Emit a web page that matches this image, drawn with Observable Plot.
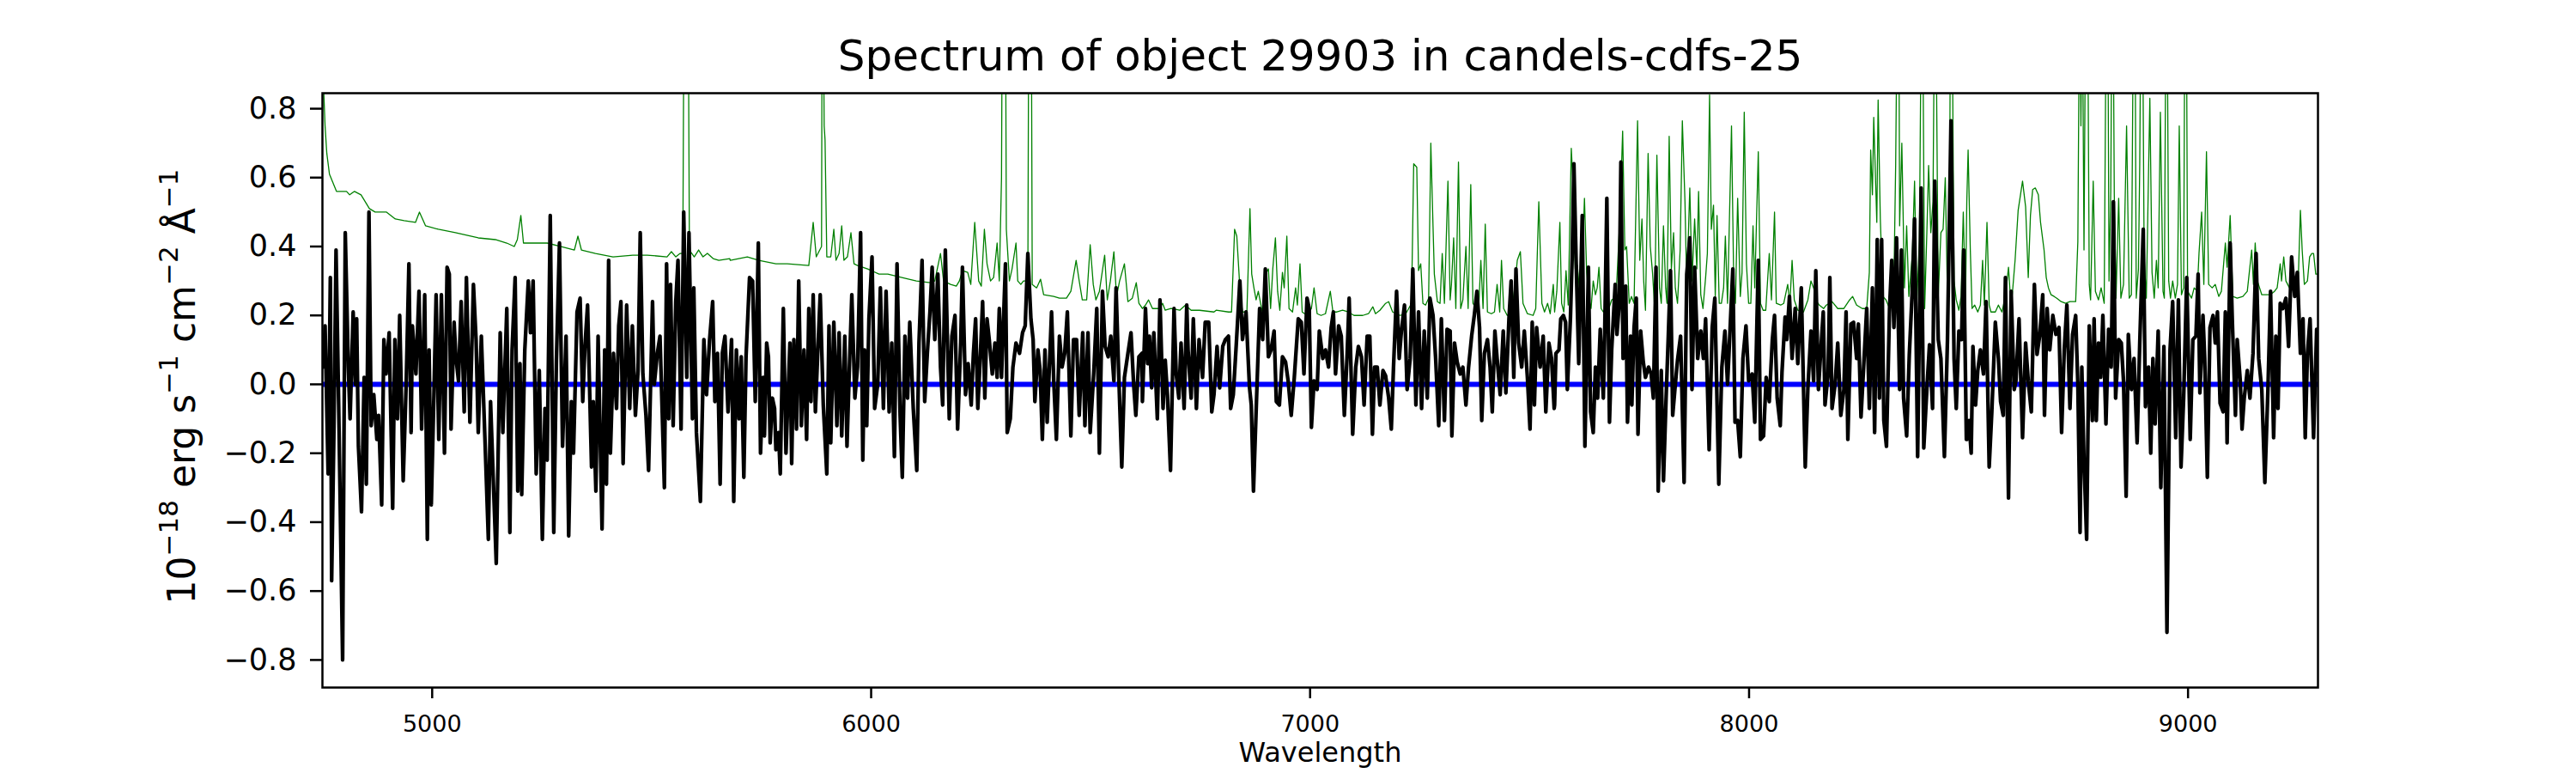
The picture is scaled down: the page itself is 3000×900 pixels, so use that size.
<!DOCTYPE html>
<html>
<head>
<meta charset="utf-8">
<script src="https://cdn.jsdelivr.net/npm/d3@7"></script>
<script src="https://cdn.jsdelivr.net/npm/@observablehq/plot@0.6"></script>
<style>
  html, body { margin: 0; padding: 0; background: #fff; }
  #chart svg { display: block; }
</style>
</head>
<body>
<div id="chart"></div>
<script>
const titleText = "Spectrum of object 29903 in candels-cdfs-25";
const xLabelText = "Wavelength";
const xTicks = [5000, 6000, 7000, 8000, 9000];
const yTicks = [-0.8, -0.6, -0.4, -0.2, 0, 0.2, 0.4, 0.6, 0.8];
const xDomain = [4750, 9296];
const yDomain = [-0.88, 0.845];

const blackWave1 = [4752,4756,4763,4768,4771,4776,4781,4787,4796,4802,
4809,4813,4820,4825,4828,4832,4839,4845,4850,4856,
4861,4867,4874,4878,4885,4890,4895,4902,4910,4915,
4921,4926,4934,4941,4947,4952,4955,4963,4970,4976,
4983,4989,4993,4998,5004,5009,5015,5021,5028,5034,
5039,5043,5050,5054,5060,5066,5073,5078,5086,5094,
5100,5105,5112,5120,5128,5133,5139,5146,5155,5161,
5170,5177,5182,5189,5195,5200,5204,5211,5219,5224,
5230,5237,5244,5251,5257,5262,5269,5277,5283,5290,
5297,5305,5311,5317,5322,5330,5337,5343,5348,5354,
5363,5367,5373,5378,5387,5393,5397,5402,5406,5413,
5420,5425,5430,5435,5443,5450,5456,5463,5469,5474,
5480,5487,5493,5502,5506,5513,5519,5529,5534,5539,
5543,5549,5555,5560,5567,5573,5580,5585,5593,5596,
5602,5611,5619,5625,5632,5639,5644,5650,5656,5661,
5667,5674];
const blackFlux1 = [0.05,0.17,-0.26,0.31,-0.57,-0.15,0.39,-0.06,-0.80,0.44,
0.05,-0.10,0.21,0.0,0.19,-0.18,-0.37,0.02,-0.29,0.50,
-0.12,-0.03,-0.16,-0.09,-0.35,0.13,0.03,0.15,-0.36,0.13,
-0.10,0.20,-0.28,0.01,0.35,-0.14,0.17,0.03,0.27,-0.13,
0.26,-0.45,0.10,-0.35,-0.03,0.26,-0.16,0.26,-0.20,0.34,
0.32,-0.13,0.18,0.08,0.01,0.24,-0.08,0.31,-0.11,0.29,
0.13,-0.14,0.14,-0.15,-0.45,-0.05,-0.27,-0.52,0.15,-0.14,
0.22,-0.43,0.10,0.31,-0.31,0.06,-0.32,0.10,0.30,0.15,
0.30,-0.26,0.04,-0.45,-0.07,-0.22,0.49,-0.43,0.07,0.41,
-0.18,0.14,-0.44,-0.05,-0.20,0.21,0.25,-0.05,0.11,0.23,
-0.24,-0.05,-0.31,0.14,-0.42,0.10,-0.29,0.36,-0.20,0.09,
-0.07,0.17,0.24,-0.23,0.23,-0.07,0.17,-0.09,0.04,0.44,
0.03,-0.09,-0.25,0.24,0.0,0.09,0.14,-0.30,0.35,-0.10,
0.29,-0.12,0.24,0.36,-0.13,0.50,0.02,0.44,-0.10,0.28,
-0.14,-0.34,0.13,-0.03,0.13,0.24,-0.05,0.09,-0.29,0.09,
0.14,-0.08];

const blackWave2 = [5682,5687,5693,5699,5704,5710,5715,5723,5730,5736,
5743,5748,5754,5757,5762,5766,5770,5775,5780,5783,
5789,5793,5800,5806,5815,5819,5824,5830,5835,5841,
5847,5853,5858,5863,5868,5873,5878,5884,5891,5899,
5904,5908,5915,5922,5927,5933,5940,5945,5950,5956,
5963,5969,5976,5981,5985,5990,5995,6002,6008,6015,
6021,6028,6034,6041,6047,6053,6059,6066,6071,6077,
6083,6088,6096,6104,6109,6116,6122,6128,6134,6139,
6145,6152,6158,6163,6169,6178,6184,6191,6197,6204,
6208,6215,6221,6228,6233,6238,6243,6249,6254,6259,
6264,6269,6276,6282,6287,6292,6297,6306,6310,6317,
6323,6330,6338,6345,6351,6357,6364,6369,6373,6380,
6385,6390,6396,6401,6411,6416,6422,6429,6435,6441,
6447,6455,6461,6468,6474,6482,6487,6494,6499,6507,
6514,6520,6527,6533,6540,6546,6553,6558,6564,6571,
6577,6585,6592,6598,6603,6610,6617];
const blackFlux2 = [0.13,-0.34,0.10,-0.10,0.08,-0.27,0.08,0.31,0.30,-0.05,
0.41,-0.20,0.02,-0.15,0.12,0.08,-0.17,-0.04,-0.07,-0.19,
-0.14,-0.26,0.22,-0.20,0.12,-0.23,0.13,-0.13,0.30,-0.12,
0.10,-0.16,0.22,-0.05,0.26,-0.08,0.08,0.26,-0.06,-0.26,
0.17,-0.17,0.18,-0.12,0.15,-0.15,0.14,-0.18,0.03,0.26,
-0.04,0.05,0.44,-0.22,0.10,-0.12,0.19,0.37,-0.07,0.0,
0.28,-0.07,0.27,-0.08,0.12,-0.21,0.35,-0.09,-0.27,0.14,
-0.04,0.18,-0.07,-0.25,0.12,0.36,-0.05,0.09,0.21,0.34,
0.13,0.32,0.05,-0.06,0.39,-0.10,0.14,0.20,-0.13,0.12,
0.34,-0.03,0.06,-0.06,0.09,0.19,-0.07,0.09,0.24,-0.04,
0.19,0.13,0.03,0.12,0.02,0.22,0.02,0.35,-0.14,-0.10,
0.05,0.12,0.09,0.15,0.17,0.38,0.19,0.13,-0.05,0.10,
0.04,-0.16,0.10,-0.11,0.21,0.01,-0.16,0.14,0.05,0.09,
0.21,-0.15,0.13,0.13,-0.09,0.15,-0.12,0.15,-0.14,0.03,
0.22,-0.20,0.27,0.11,0.08,0.14,0.01,0.28,0.03,-0.24,
0.02,0.09,0.15,0.0,-0.09,0.08,0.09];

const blackWave3 = [6618,6625,6630,6634,6639,6644,6652,6658,6665,6670,
6675,6682,6690,6695,6701,6706,6713,6719,6722,6729,
6734,6741,6747,6755,6761,6769,6776,6781,6788,6794,
6801,6807,6814,6819,6825,6832,6840,6846,6854,6862,
6866,6871,6877,6885,6892,6898,6905,6911,6918,6923,
6930,6937,6944,6950,6957,6964,6973,6980,6986,6993,
6998,7003,7009,7016,7021,7029,7035,7042,7048,7053,
7058,7065,7071,7078,7084,7089,7097,7104,7110,7117,
7123,7130,7136,7142,7147,7153,7159,7166,7172,7179,
7185,7190,7197,7203,7208,7215,7221,7228,7234,7241,
7247,7254,7260,7267,7273,7280,7286,7293,7299,7306,
7312,7319,7323,7329,7335,7342,7348,7355,7361,7368,
7374,7380,7386,7391,7397,7404,7410,7415,7421,7426,
7433,7440,7446,7453,7458,7464,7469,7475,7482,7488,
7495,7501,7506,7511,7516,7524,7531,7537,7544,7550,
7556];
const blackFlux3 = [-0.05,0.22,0.06,0.14,-0.01,0.15,-0.10,0.245,-0.07,0.07,
-0.03,-0.25,0.22,0.03,-0.04,0.12,-0.07,0.23,0.10,-0.04,
0.19,-0.07,0.13,0.02,0.18,0.18,-0.08,-0.03,0.11,-0.01,
0.11,0.13,0.14,-0.07,-0.03,0.12,0.30,0.13,0.21,-0.01,
-0.06,-0.31,-0.08,0.22,0.13,0.335,0.08,0.10,0.155,-0.05,
-0.06,0.08,0.065,0.01,-0.09,0.02,0.19,0.18,0.03,0.25,
0.22,-0.125,0.01,-0.015,0.155,0.075,0.10,0.05,0.165,0.21,
0.03,0.17,0.14,-0.09,0.075,0.25,-0.145,0.05,0.11,0.08,
-0.06,0.14,0.14,-0.145,0.05,0.05,-0.06,0.04,0.025,-0.04,
-0.13,0.05,0.27,0.075,0.155,0.23,-0.015,0.075,0.335,-0.06,
0.21,-0.07,0.155,-0.04,0.25,0.20,0.075,-0.12,0.19,-0.105,
0.16,0.155,-0.15,0.12,0.065,0.03,0.05,-0.06,0.05,0.14,
0.20,0.27,0.165,-0.105,0.09,0.13,0.05,-0.08,0.155,0.075,
-0.03,0.155,-0.025,0.19,0.30,0.02,0.335,0.12,0.05,0.155,
0.02,-0.13,0.18,-0.06,0.165,0.05,0.14,-0.08,0.12,0.075,
-0.07];

const blackWave4 = [7557,7560,7567,7571,7577,7582,7586,7593,7597,7601,
7606,7612,7620,7626,7630,7634,7639,7645,7650,7655,
7661,7668,7671,7676,7682,7687,7695,7699,7704,7708,
7713,7719,7723,7730,7733,7738,7743,7747,7753,7759,
7764,7771,7777,7782,7788,7793,7800,7805,7811,7816,
7821,7826,7831,7837,7844,7852,7858,7865,7870,7876,
7883,7890,7896,7901,7909,7916,7922,7931,7938,7945,
7951,7956,7963,7968,7974,7980,7986,7993,7999,8007,
8013,8021,8026,8033,8039,8046,8053,8058,8064,8071,
8075,8082,8086,8092,8098,8105,8111,8119,8128,8134,
8141,8147,8152,8158,8163,8169,8173,8180,8184,8189,
8196,8202,8209,8216,8221,8225,8232,8238,8245,8249,
8255,8261,8268,8274,8281,8286,8292,8297,8302,8307,
8313,8320,8325,8330,8336,8343,8347,8352,8359,8365,
8372,8377,8384,8392,8398,8405,8411,8418,8423,8431,
8437,8445,8452,8460,8467,8472,8478,8484,8489,8495];
const blackFlux4 = [-0.06,0.09,0.10,0.19,0.20,0.18,-0.015,0.19,0.37,0.64,
0.36,0.06,0.49,-0.18,0.075,0.34,-0.08,-0.14,0.05,-0.04,
0.16,-0.04,0.14,0.54,-0.11,0.10,0.29,0.145,0.23,0.645,
0.075,0.285,-0.11,0.14,-0.06,0.165,0.25,-0.145,0.155,0.065,
0.02,0.05,0.03,-0.04,0.34,-0.31,0.04,-0.28,-0.04,0.14,
0.33,-0.09,-0.015,0.07,0.14,-0.285,0.32,0.425,-0.015,0.34,
0.075,0.155,0.075,0.19,-0.19,0.165,0.25,-0.29,0.05,0.155,
0.0,0.14,0.335,-0.11,-0.105,-0.21,0.075,0.17,0.01,0.03,
-0.11,0.36,-0.16,-0.15,0.02,-0.05,0.13,0.20,-0.04,-0.12,
0.035,0.195,0.13,0.255,0.075,0.22,0.06,0.28,-0.24,-0.01,
0.155,0.01,0.33,-0.015,0.09,0.21,-0.06,0.03,0.31,-0.07,
0.0,0.12,-0.09,-0.015,0.21,-0.16,0.175,0.18,0.075,0.175,
-0.095,0.05,0.22,-0.07,0.28,-0.14,0.42,-0.04,0.42,-0.105,
-0.18,0.22,0.36,0.165,0.425,-0.015,0.39,-0.04,-0.15,0.085,
0.28,0.48,-0.21,0.57,-0.185,-0.015,0.115,-0.07,0.59,0.13,
0.075,-0.21,0.13,0.765,0.075,-0.07,0.155,0.13,0.39,-0.16];

const blackWave5 = [8496,8501,8506,8510,8516,8521,8527,8534,8540,8547,
8553,8561,8568,8573,8579,8584,8591,8597,8604,8608,
8615,8623,8630,8636,8643,8650,8656,8662,8669,8673,
8679,8685,8692,8699,8706,8712,8718,8724,8731,8737,
8744,8749,8754,8758,8763,8769,8775,8782,8786,8791,
8796,8801,8806,8813,8819,8825,8830,8835,8842,8848,
8853,8859,8864,8871,8877,8884,8890,8898,8903,8910,
8915,8920,8925,8932,8938,8945,8952,8959,8965,8972,
8978,8984,8990,8997,9005,9011,9018,9023,9027,9034,
9038,9044,9050,9057,9062,9067,9073,9080,9085,9089,
9096,9101,9108,9112,9119,9123,9128,9135,9141,9148,
9155,9161,9168,9175,9182,9188,9195,9200,9205,9210,
9216,9223,9229,9236,9243,9249,9256,9262,9267,9272,
9278,9286,9293,9297];
const blackFlux5 = [-0.16,-0.105,-0.20,0.11,-0.06,0.04,0.10,0.03,0.24,-0.24,
-0.08,0.18,0.075,-0.05,-0.09,0.31,-0.33,0.27,-0.015,0.01,
0.19,-0.155,0.12,0.01,-0.08,0.29,0.087,0.14,0.26,-0.09,
0.22,0.10,0.20,0.145,0.165,-0.14,0.10,0.23,-0.07,0.145,
0.20,0.0,-0.43,0.05,-0.22,-0.45,0.17,-0.105,0.19,-0.105,
0.12,0.02,0.20,-0.115,0.16,0.05,0.53,-0.04,0.13,0.12,
0.01,-0.325,0.145,-0.015,0.075,-0.17,0.12,0.45,-0.065,0.05,
-0.20,0.075,-0.115,0.155,-0.30,0.11,-0.72,0.10,0.24,-0.155,
0.245,-0.24,-0.04,0.31,-0.16,0.13,0.14,0.32,-0.025,0.20,
0.075,-0.27,0.165,0.20,0.12,0.21,-0.055,-0.08,0.21,-0.17,
0.41,0.18,-0.09,0.13,0.01,-0.13,-0.04,0.04,-0.04,0.09,
0.38,0.075,-0.015,-0.285,-0.015,0.27,-0.155,0.14,-0.07,0.235,
0.22,0.25,0.11,0.37,0.255,0.325,0.09,0.19,-0.155,0.09,
0.19,-0.155,0.16,0.075];

// Error / sky spectrum (green)
const greenWave1 = [4750,4753,4756,4760,4766,4782,4805,4812,4823,4838,
4857,4870,4896,4916,4936,4962,4971,4985,5014,5053,
5105,5144,5170,5187,5194,5202,5208,5236,5262,5294,
5324,5332,5340,5372,5412,5457,5490,5535,5545,5555,
5565,5571,5575,5582,5586,5597,5607,5617,5627,5640,
5653,5678];
const greenFlux1 = [0.95,0.85,0.75,0.67,0.61,0.56,0.56,0.55,0.56,0.55,
0.51,0.50,0.50,0.48,0.475,0.47,0.50,0.46,0.45,0.44,
0.425,0.42,0.41,0.40,0.42,0.49,0.41,0.41,0.41,0.40,
0.39,0.43,0.39,0.38,0.37,0.375,0.375,0.37,0.385,0.37,
0.38,0.38,1.5,1.5,0.39,0.37,0.39,0.37,0.38,0.365,
0.36,0.365];

const greenWave2 = [5679,5718,5744,5783,5809,5858,5868,5875,5887,5889,
5893,5895,5899,5908,5915,5920,5927,5933,5938,5946,
5954,5961,5969,5992,6018,6038,6070,6103,6135,6145,
6158,6165,6181,6194,6201,6208,6220,6227,6236,6245,
6251,6258,6264,6272,6279,6287,6292,6297,6300,6305,
6308,6315,6321,6330,6334,6341,6347,6357,6360,6364,
6367,6377,6386,6393,6416,6429,6445,6455,6467,6474,
6481,6491,6499,6506,6512,6520,6532,6538,6545,6553,
6559,6566,6577,6585,6595,6604,6610];
const greenFlux2 = [0.36,0.37,0.36,0.35,0.35,0.345,0.47,0.37,0.40,1.5,
0.75,0.71,0.37,0.37,0.45,0.36,0.38,0.46,0.36,0.37,
0.44,0.35,0.345,0.335,0.32,0.32,0.31,0.30,0.295,0.30,
0.38,0.30,0.29,0.285,0.30,0.33,0.325,0.29,0.47,0.30,
0.285,0.45,0.35,0.30,0.31,0.41,0.30,0.60,1.5,1.5,
0.45,0.30,0.335,0.41,0.30,0.29,0.30,0.30,1.5,1.5,
0.29,0.28,0.305,0.26,0.255,0.25,0.25,0.27,0.36,0.30,
0.245,0.245,0.405,0.29,0.245,0.27,0.375,0.245,0.30,0.385,
0.255,0.30,0.35,0.24,0.25,0.295,0.235];

const greenWave3 = [6618,6625,6632,6641,6657,6664,6670,6683,6703,6716,
6729,6748,6781,6786,6814,6821,6828,6833,6840,6846,
6856,6863,6867,6872,6877,6882,6891,6895,6900,6905,
6910,6915,6921,6926,6931,6937,6941,6947,6952,6960,
6967,6971,6977,6982,6993,7003,7009,7016,7025,7035,
7046,7052,7061,7074,7087,7100,7120,7133,7143,7149,
7159,7172,7179,7188,7205,7218,7231,7236,7243,7247,
7252,7257,7263,7270,7275,7280,7283,7290,7296,7301,
7306,7314,7319,7322,7327,7332,7338,7343,7348,7355,
7360,7366,7371,7378,7384,7389,7394,7399,7404,7413,
7420,7426,7432,7436,7441,7449,7459,7466,7472,7479,
7485,7495,7508,7514,7521,7528,7534,7541,7547,7554];
const greenFlux3 = [0.22,0.23,0.245,0.22,0.22,0.235,0.215,0.22,0.215,0.23,
0.215,0.215,0.21,0.215,0.21,0.21,0.45,0.43,0.28,0.21,
0.21,0.51,0.32,0.28,0.245,0.27,0.21,0.26,0.325,0.335,
0.22,0.335,0.425,0.27,0.215,0.325,0.28,0.43,0.22,0.21,
0.28,0.23,0.35,0.21,0.20,0.22,0.28,0.205,0.20,0.205,
0.27,0.21,0.21,0.215,0.21,0.20,0.20,0.205,0.225,0.205,
0.215,0.235,0.24,0.21,0.20,0.205,0.235,0.64,0.63,0.33,
0.35,0.235,0.23,0.25,0.70,0.46,0.32,0.24,0.235,0.38,
0.235,0.59,0.245,0.29,0.425,0.22,0.645,0.22,0.245,0.40,
0.22,0.58,0.235,0.22,0.22,0.36,0.22,0.465,0.21,0.205,
0.21,0.29,0.21,0.36,0.22,0.20,0.21,0.28,0.36,0.385,
0.235,0.205,0.20,0.22,0.53,0.235,0.21,0.235,0.205,0.29];

const greenWave4 = [7557,7562,7569,7573,7578,7583,7588,7595,7599,7604,
7609,7616,7621,7625,7630,7635,7640,7645,7650,7654,
7658,7663,7668,7678,7687,7697,7706,7712,7717,7721,
7727,7732,7738,7746,7751,7756,7760,7764,7770,7775,
7780,7785,7790,7796,7800,7805,7810,7813,7818,7823,
7828,7832,7837,7843,7848,7854,7858,7865,7870,7876,
7881,7885,7890,7895,7901,7905,7910,7914,7919,7923,
7927,7932,7937,7942,7946,7951,7960,7965,7969,7974,
7980,7984,7989,7994,7999,8004,8009,8013,8021,8026,
8032,8038,8046,8051,8058,8062,8072,8079,8088,8093,
8098,8103,8111,8124,8134,8141,8147,8154,8160,8170,
8176,8189,8202,8216,8229,8236,8245,8258,8268,8274,
8277,8281,8284,8291,8294,8299,8305,8312,8320,8330,
8334,8338,8341,8343,8348,8354,8359,8364,8372,8377,
8382,8388,8393,8395,8400,8405,8409,8414,8419,8423,
8425,8431,8437,8442,8447,8452,8457,8459,8462,8467,
8472,8478,8483,8488,8493];
const greenFlux4 = [0.21,0.27,0.47,0.235,0.21,0.33,0.23,0.685,0.58,0.335,
0.345,0.235,0.39,0.54,0.325,0.25,0.22,0.30,0.26,0.28,
0.34,0.22,0.21,0.21,0.245,0.255,0.49,0.735,0.39,0.40,
0.235,0.255,0.235,0.765,0.36,0.48,0.30,0.215,0.67,0.40,
0.325,0.22,0.665,0.28,0.235,0.46,0.28,0.235,0.72,0.335,
0.44,0.28,0.235,0.39,0.765,0.53,0.28,0.57,0.30,0.48,
0.335,0.56,0.26,0.22,0.31,0.38,0.84,0.45,0.52,0.255,
0.49,0.235,0.235,0.28,0.43,0.235,0.75,0.30,0.235,0.54,
0.255,0.325,0.79,0.35,0.235,0.235,0.46,0.28,0.675,0.235,
0.215,0.215,0.38,0.245,0.50,0.235,0.23,0.235,0.29,0.235,
0.36,0.245,0.215,0.21,0.245,0.30,0.28,0.24,0.23,0.22,
0.23,0.24,0.22,0.22,0.245,0.255,0.23,0.22,0.22,0.325,
0.68,0.55,0.775,0.47,0.825,0.48,0.255,0.245,0.22,0.30,
0.64,1.2,1.2,0.46,0.70,0.28,0.46,0.255,0.38,0.59,
0.235,0.415,1.2,1.2,0.22,0.44,0.635,0.44,0.53,1.2,
1.2,0.255,0.44,0.45,0.60,0.255,0.58,1.2,1.2,0.30,
0.245,0.215,0.255,0.50,0.235];

const greenWave5 = [8496,8499,8504,8508,8514,8521,8527,8532,8536,8542,
8547,8551,8561,8568,8576,8584,8591,8597,8606,8613,
8623,8630,8636,8641,8646,8652,8659,8664,8672,8677,
8682,8688,8695,8701,8711,8721,8731,8744,8749,8753,
8756,8759,8763,8767,8771,8775,8778,8784,8789,8796,
8802,8809,8814,8817,8820,8824,8827,8829,8832,8836,
8842,8847,8853,8860,8866,8871,8876,8879,8882,8887,
8890,8893,8896,8900,8905,8913,8918,8923,8928,8932,
8937,8943,8946,8950,8952,8956,8960,8965,8971,8976,
8980,8985,8990,8993,8996,8999,9008,9014,9021,9025,
9031,9036,9042,9047,9055,9062,9070,9076,9085,9089,
9096,9102,9112,9125,9135,9145,9149,9153,9158,9168,
9177,9187,9197,9203,9210,9213,9218,9223,9231,9239,
9246,9251,9256,9260,9265,9272,9277,9282,9286,9291,
9297];
const greenFlux5 = [0.53,0.68,0.39,0.22,0.23,0.21,0.23,0.36,0.23,0.47,
0.23,0.21,0.21,0.23,0.21,0.255,0.34,0.22,0.36,0.505,
0.59,0.515,0.31,0.49,0.565,0.57,0.55,0.47,0.39,0.31,
0.28,0.26,0.255,0.25,0.24,0.235,0.24,0.24,0.415,1.2,
0.75,1.2,0.39,1.2,1.2,0.29,0.245,0.59,0.27,0.245,
0.28,0.235,1.2,1.2,0.30,0.56,1.2,1.2,0.55,0.25,
0.54,0.25,0.29,0.75,0.25,0.26,1.2,1.2,0.25,0.335,
0.64,1.2,1.2,0.37,0.25,0.83,0.325,0.25,0.36,0.28,
0.79,0.27,0.25,1.2,1.2,0.30,0.25,0.30,0.25,0.29,
0.75,0.26,0.28,1.2,1.2,0.27,0.25,0.28,0.27,0.38,
0.50,0.29,0.675,0.29,0.28,0.29,0.255,0.27,0.41,0.34,
0.49,0.255,0.25,0.255,0.27,0.39,0.29,0.41,0.30,0.26,
0.26,0.26,0.27,0.28,0.35,0.30,0.37,0.30,0.28,0.28,
0.29,0.30,0.505,0.39,0.29,0.30,0.37,0.38,0.38,0.32,
0.32];

function pairUp(waves, fluxes) {
  const out = [];
  const problems = [];
  waves.forEach((w, k) => {
    const f = fluxes[k];
    if (w.length !== f.length) problems.push(`chunk ${k + 1}: ${w.length} vs ${f.length}`);
    const n = Math.min(w.length, f.length);
    for (let i = 0; i < n; i++) out.push({ wavelength: w[i], flux: f[i] });
  });
  return { out, problems };
}

const blackP = pairUp([blackWave1, blackWave2, blackWave3, blackWave4, blackWave5],
                      [blackFlux1, blackFlux2, blackFlux3, blackFlux4, blackFlux5]);
const greenP = pairUp([greenWave1, greenWave2, greenWave3, greenWave4, greenWave5],
                      [greenFlux1, greenFlux2, greenFlux3, greenFlux4, greenFlux5]);
const spectrum = blackP.out;
const noise = greenP.out;
const problems = [...blackP.problems.map(s => "black " + s), ...greenP.problems.map(s => "green " + s)];

const fmtY = d => d.toFixed(1).replace("-", "\u2212");

const chart = Plot.plot({
  width: 3000,
  height: 900,
  marginLeft: 375,
  marginRight: 301,
  marginTop: 108,
  marginBottom: 100,
  style: { fontFamily: "DejaVu Sans", background: "white", color: "black" },
  x: { domain: xDomain },
  y: { domain: yDomain },
  marks: [
    Plot.line(noise, { x: "wavelength", y: "flux", stroke: "green", strokeWidth: 1.3, clip: true }),
    Plot.ruleY([0], { stroke: "blue", strokeWidth: 6 }),
    Plot.line(spectrum, { x: "wavelength", y: "flux", stroke: "black", strokeWidth: 4.3, clip: true }),
    Plot.frame({ stroke: "black", strokeWidth: 2.5 }),
    Plot.axisX({ ticks: xTicks, tickSize: 13, tickPadding: 19, fontSize: 27, label: null,
                 tickFormat: d => String(d), strokeWidth: 2.5 }),
    Plot.axisY({ ticks: yTicks, tickSize: 14, tickPadding: 16, fontSize: 35, label: null,
                 tickFormat: fmtY, strokeWidth: 2.5 }),
    Plot.text([titleText], { text: d => d, frameAnchor: "top", dy: -43, fontSize: 50, lineAnchor: "middle", fill: "black" }),
    Plot.text([xLabelText], { text: d => d, frameAnchor: "bottom", dy: 76, fontSize: 32, lineAnchor: "middle", fill: "black" })
  ]
});

document.getElementById("chart").appendChild(chart);

// y-axis label with superscripts: 10^-18 erg s^-1 cm^-2 Å^-1
const yLabelParts = [
  ["10", false], ["\u221218", true], [" erg s", false], ["\u22121", true],
  [" cm", false], ["\u22122", true], [" \u00C5", false], ["\u22121", true]
];
const svgSel = d3.select(chart.tagName.toLowerCase() === "svg" ? chart : chart.querySelector("svg"));
const yLab = svgSel.append("text")
  .attr("transform", "translate(227,450) rotate(-90)")
  .attr("text-anchor", "middle")
  .attr("font-family", "DejaVu Sans")
  .attr("font-size", 44)
  .attr("fill", "black");
let raised = false;
for (const [txt, sup] of yLabelParts) {
  const ts = yLab.append("tspan").text(txt);
  if (sup && !raised) { ts.attr("dy", -20).attr("font-size", 31); raised = true; }
  else if (sup) { ts.attr("font-size", 31); }
  else if (!sup && raised) { ts.attr("dy", 20); raised = false; }
}

if (problems.length) {
  svgSel.append("text").attr("x", 20).attr("y", 30).attr("fill", "red").attr("font-size", 20)
    .text("LENGTH MISMATCH: " + problems.join("; "));
}
</script>
</body>
</html>
